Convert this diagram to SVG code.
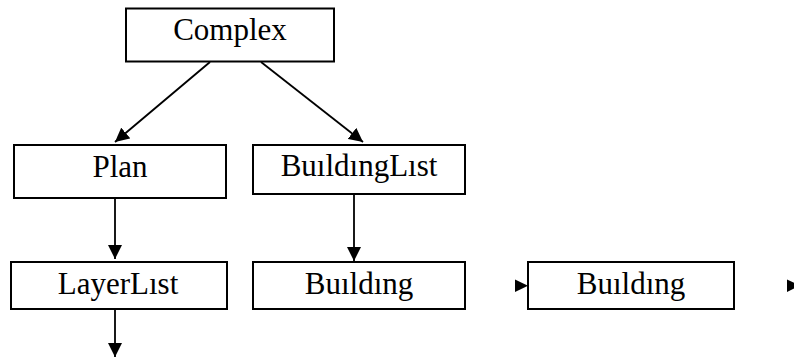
<svg xmlns="http://www.w3.org/2000/svg" width="794" height="359" viewBox="0 0 794 359">
<style>
.box{fill:#fff;stroke:#000;stroke-width:2}
.lbl{font-family:"Liberation Serif","Times New Roman",serif;font-size:31px;fill:#000;text-anchor:middle}
.edge{stroke:#000;stroke-width:1.8;fill:none}
.head{fill:#000}
</style>
<defs>
<marker id="arr" markerUnits="userSpaceOnUse" markerWidth="14" markerHeight="14" viewBox="0 0 13 13" refX="13" refY="6.5" orient="auto">
<path d="M0,0 L13,6.5 L0,13 z" fill="#000"/>
</marker>
</defs>
<rect width="794" height="359" fill="#fff"/>
<g id="connectors">
<line class="edge" x1="210" y1="62" x2="115" y2="142" marker-end="url(#arr)"/>
<line class="edge" x1="261" y1="62" x2="363" y2="142" marker-end="url(#arr)"/>
<line class="edge" x1="115" y1="198" x2="115" y2="259" marker-end="url(#arr)"/>
<line class="edge" x1="354" y1="194" x2="354" y2="261" marker-end="url(#arr)"/>
<line class="edge" x1="115" y1="309" x2="115" y2="357" marker-end="url(#arr)"/>
<polygon class="head" points="515,279.5 528,285.7 515,292"/>
<polygon class="head" points="787,279.5 800,285.7 787,292"/>
</g>
<g id="complex">
<rect class="box" x="126" y="8.5" width="208" height="53"/>
<text class="lbl" x="230" y="40">Complex</text>
</g>
<g id="plan">
<rect class="box" x="14" y="145" width="212" height="53"/>
<text class="lbl" x="120" y="177">Plan</text>
</g>
<g id="buildinglist">
<rect class="box" x="253" y="145" width="212" height="49"/>
<text class="lbl" x="359" y="176">BuıldıngLıst</text>
</g>
<g id="layerlist">
<rect class="box" x="11" y="262" width="216" height="47"/>
<text class="lbl" x="118" y="294">LayerLıst</text>
</g>
<g id="building1">
<rect class="box" x="253" y="262" width="212" height="47"/>
<text class="lbl" x="359" y="294">Buıldıng</text>
</g>
<g id="building2">
<rect class="box" x="528" y="262" width="206" height="47"/>
<text class="lbl" x="631" y="294">Buıldıng</text>
</g>
</svg>
